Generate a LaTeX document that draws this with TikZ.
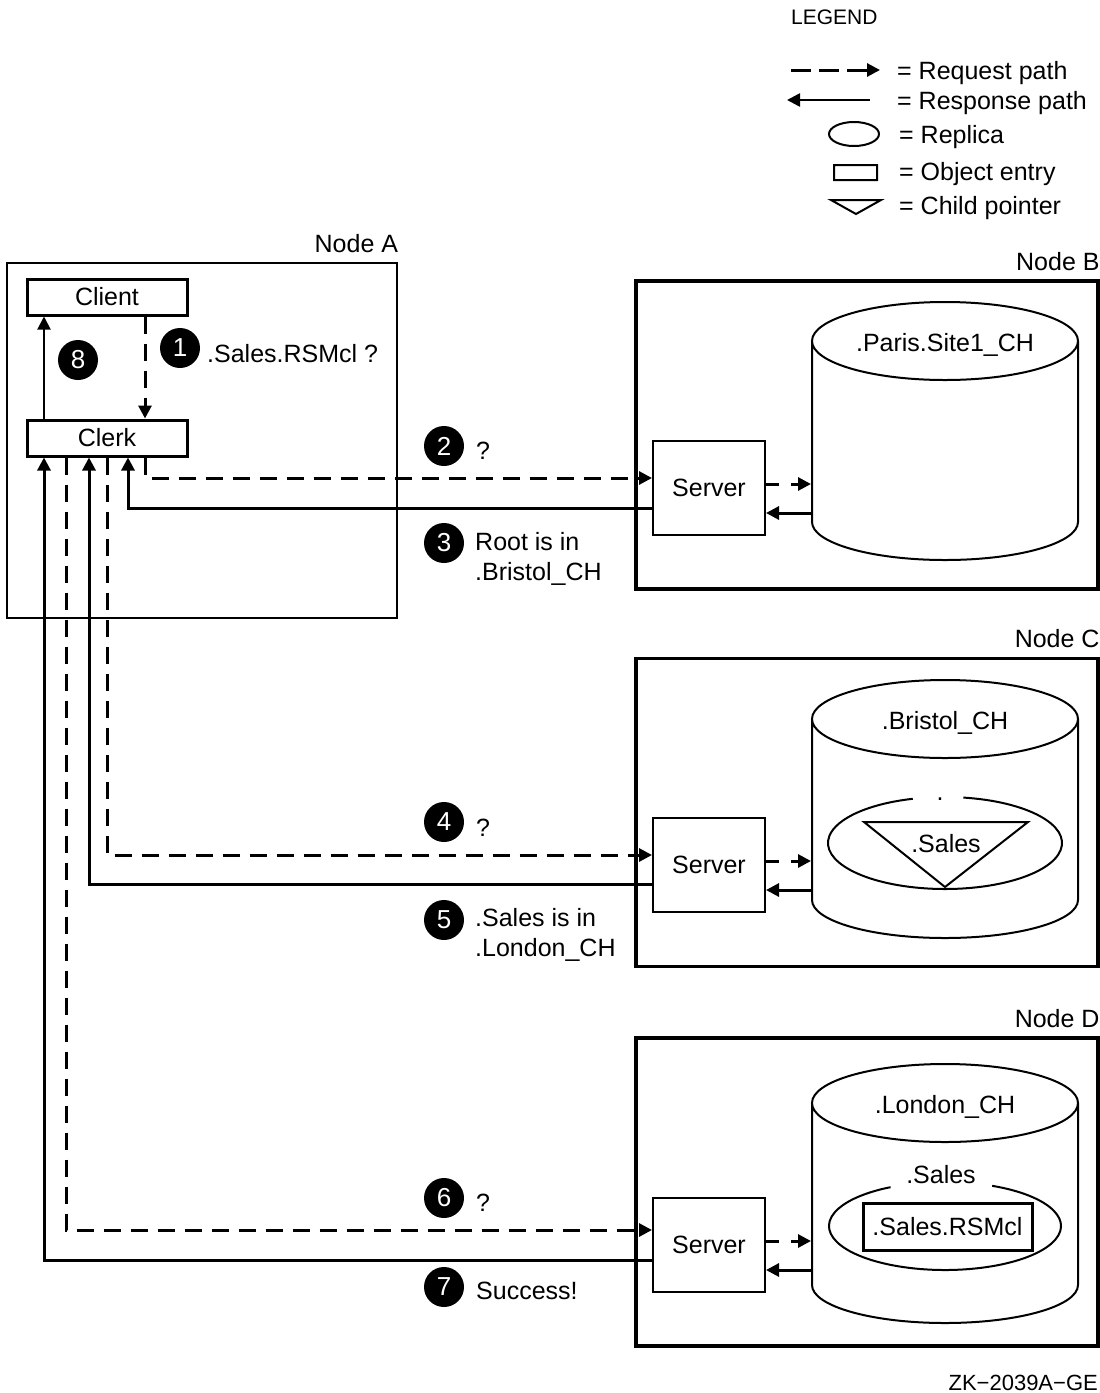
\documentclass[tikz,border=0pt]{standalone}
\usepackage{fontspec}
\setmainfont{Liberation Sans}
\usetikzlibrary{arrows.meta}

\begin{document}
\begin{tikzpicture}[x=1pt, y=-1pt, font=\fontsize{25}{30}\selectfont,
    >={Triangle[length=13pt, width=13pt]},
    nodebox/.style={draw, line width=3.5pt, minimum width=462pt, minimum height=308pt, inner sep=0pt},
    box/.style={draw, line width=3pt, minimum width=160pt, minimum height=36pt, inner sep=0pt},
    srv/.style={draw, line width=2pt, minimum width=112pt, minimum height=94pt, inner sep=0pt},
    badge/.style={circle, fill=black, text=white, minimum size=40pt, inner sep=0pt, font=\fontsize{26}{26}\selectfont},
    req/.style={->, line width=3pt, dash pattern=on 17pt off 10pt},
    resp/.style={->, line width=3pt},
    lbl/.style={anchor=base west, inner sep=0pt},
    tag/.style={anchor=base east, inner sep=0pt}]
  \useasboundingbox (0,0) rectangle (1100,1393);

  \path node (legend) at (791,24) [lbl, font=\fontsize{21}{21}\selectfont] {LEGEND}
        node (lreq)  at (897,79)  [lbl] {= Request path}
        node (lresp) at (897,109) [lbl] {= Response path}
        node (lrep)  at (899,143) [lbl] {= Replica}
        node (lobj)  at (899,180) [lbl] {= Object entry}
        node (lchd)  at (899,214) [lbl] {= Child pointer};
  \coordinate (k1) at (791,70);  \coordinate (k2) at (880,70);
  \coordinate (k3) at (870,100); \coordinate (k4) at (787,100);
  \draw[req, dash pattern=on 20pt off 8pt] (k1) -- (k2);
  \draw[resp, line width=2.5pt] (k3) -- (k4);
  \draw[line width=2pt] (854,134) ellipse [x radius=25, y radius=12]
        (834,165) rectangle (877,180)
        (831,200) -- (881,200) -- (856,214) -- cycle;

  \path node (nodeA)  at (202,440.5) [draw, line width=2.5pt, minimum width=390pt, minimum height=355pt] {}
        node (tagA)   at ([yshift=9pt]nodeA.north east) [tag] {Node A}
        node (client) at (107,297) [box] {Client}
        node (clerk)  at (107,438) [box] {Clerk}
        node (one)    at (180,348) [badge] {1}
        node (eight)  at (78,360)  [badge] {8}
        node (ask)    at (207,362) [lbl] {.Sales.RSMcl ?};

  \foreach \n/\yb/\yc/\yd/\ys/\nm in {B/435/341/522/488/.Paris.Site1\_CH,
                                      C/812.5/719/900/865/.Bristol\_CH,
                                      D/1192/1103/1285/1245/.London\_CH} {
    \path node (node\n)   at (867,\yb) [nodebox] {}
          node (tag\n)    at ([yshift=9pt]node\n.north east) [tag] {Node \n}
          node (server\n) at (709,\ys) [srv] {Server}
          node (db\n)     at (945,\yc+10) [anchor=base, inner sep=0pt] {\nm};
    \draw[line width=2pt] (945,\yc) ellipse [x radius=133, y radius=39]
          (812,\yc) -- (812,\yd) arc [start angle=180, end angle=0, x radius=133, y radius=38] -- (1078,\yc);
    \coordinate (in\n)  at (811,\ys-4);
    \coordinate (out\n) at (811,\ys+25);
    \draw[req, dash pattern=on 13pt off 12pt] (server\n.east |- in\n) -- (in\n);
    \draw[resp] (out\n) -- (server\n.east |- out\n);
  }

  \draw[line width=2pt] (945,843) ++(279:117 and 46) arc [start angle=279, end angle=614, x radius=117, y radius=46]
        (864,822) -- (1028,822) -- (945,887) -- cycle;
  \path node (dot)    at (940,800)  [anchor=base, inner sep=0pt] {.}
        node (salesC) at (946,852)  [anchor=base, inner sep=0pt] {.Sales};
  \draw[line width=2pt] (945,1226) ++(294:116 and 44) arc [start angle=294, end angle=602, x radius=116, y radius=44];
  \path node (salesD) at (941,1183) [anchor=base, inner sep=0pt] {.Sales}
        node (rsmcl)  at (947.5,1226.5) [draw, line width=3pt, minimum width=169pt, minimum height=47pt, inner sep=0pt] {.Sales.RSMcl};

  \coordinate (q2) at (145,478);  \coordinate (r3) at (128,508);
  \coordinate (q4) at (107,855);  \coordinate (r5) at (89,884);
  \coordinate (q6) at (66,1230);  \coordinate (r7) at (44,1260);
  \draw[req] (client.south -| q2) -- (clerk.north -| q2);
  \draw[->, line width=2pt] (clerk.north -| r7) -- (client.south -| r7);
  \draw[req]  (clerk.south -| q2) |- (serverB.west |- q2);
  \draw[resp] (serverB.west |- r3) -| (clerk.south -| r3);
  \draw[req]  (clerk.south -| q4) |- (serverC.west |- q4);
  \draw[resp] (serverC.west |- r5) -| (clerk.south -| r5);
  \draw[req]  (clerk.south -| q6) |- (serverD.west |- q6);
  \draw[resp] (serverD.west |- r7) -| (clerk.south -| r7);

  \path node (two)   at (444,446)  [badge] {2}
        node (three) at (444,543)  [badge] {3}
        node (four)  at (444,822)  [badge] {4}
        node (five)  at (444,920)  [badge] {5}
        node (six)   at (444,1198) [badge] {6}
        node (seven) at (444,1287) [badge] {7}
        node (q2t)   at (476,459)  [lbl] {?}
        node (r3t)   at (475,559)  [anchor=west, align=left, inner sep=0pt] {Root is in\\.Bristol\_CH}
        node (q4t)   at (476,836)  [lbl] {?}
        node (r5t)   at (475,935)  [anchor=west, align=left, inner sep=0pt] {.Sales is in\\.London\_CH}
        node (q6t)   at (476,1211) [lbl] {?}
        node (r7t)   at (476,1299) [lbl] {Success!}
        node (code)  at (1098,1390) [tag, font=\fontsize{22}{22}\selectfont] {ZK−2039A−GE};
\end{tikzpicture}
\end{document}
